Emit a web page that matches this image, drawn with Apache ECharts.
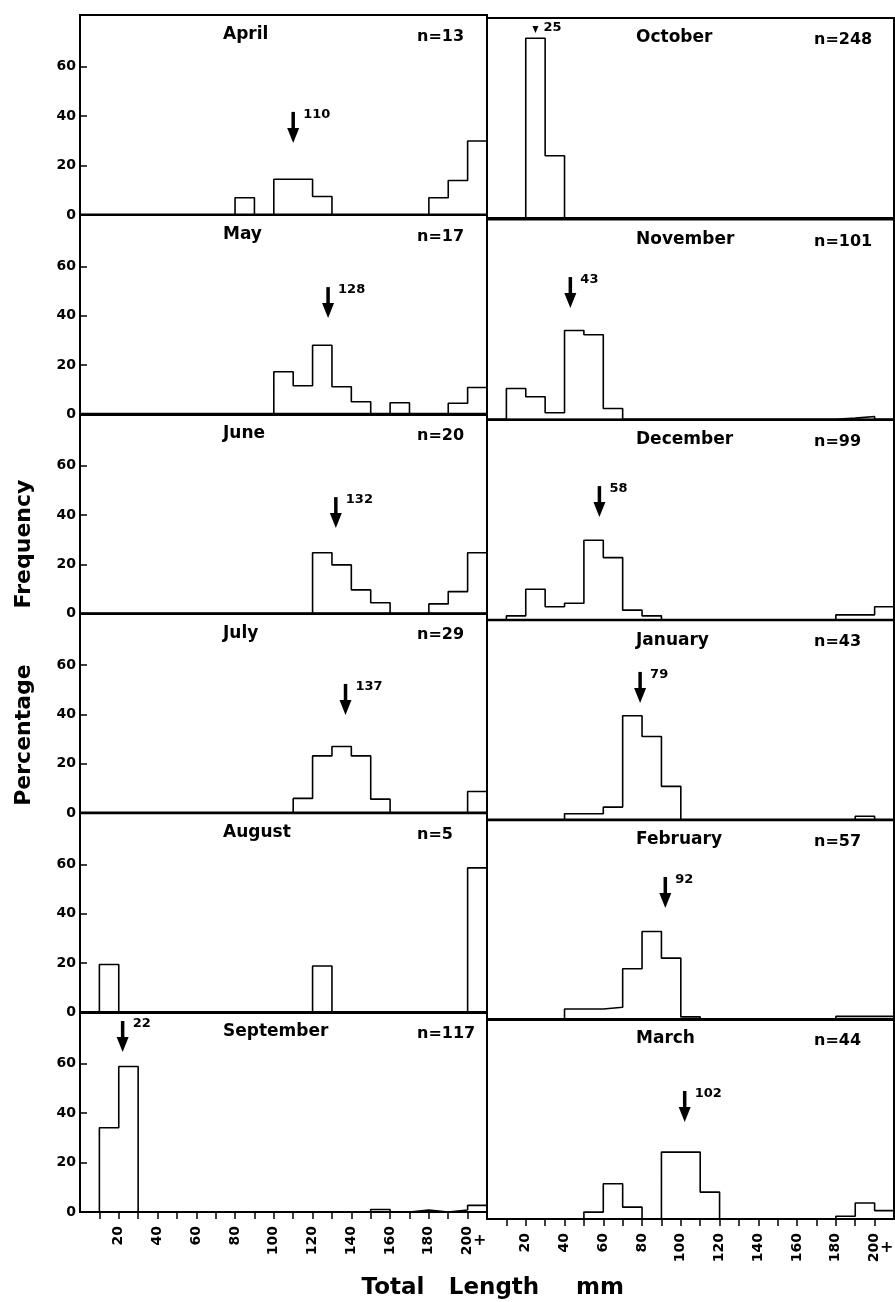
<!DOCTYPE html>
<html>
<head>
<meta charset="utf-8">
<script src="https://cdn.jsdelivr.net/npm/echarts@6/dist/echarts.min.js"></script>
<style>
html,body{margin:0;padding:0;background:#ffffff;}
#chart{width:895px;height:1302px;}
</style>
</head>
<body>
<div id="chart"></div>
<script>
// ---------- DATA ----------
// Length classes (mm), lower bound of each 10 mm bin; 200 = "200+"
const binStarts = [0,10,20,30,40,50,60,70,80,90,100,110,120,130,140,150,160,170,180,190,200];
const xTickValues = [10,20,30,40,50,60,70,80,90,100,110,120,130,140,150,160,170,180,190,200];
const xLabelValues = [20,40,60,80,100,120,140,160,180,200];
const yLabelValues = [0,20,40,60];

const months = ['April','May','June','July','August','September',
                'October','November','December','January','February','March'];
const sampleSizes = [13,17,20,29,5,117,248,101,99,43,57,44];
const meanLengths = [110,128,132,137,null,22,25,43,58,79,92,102];

// Percentage frequency per bin (index = binStart/10)
const aprilPct     = [0,0,0,0,0,0,0,0,7,0,14.5,14.5,7.5,0,0,0,0,0,7,14,30];
const mayPct       = [0,0,0,0,0,0,0,0,0,0,17.3,11.6,28,11.2,5.1,0,4.7,0,0,4.5,10.9];
const junePct      = [0,0,0,0,0,0,0,0,0,0,0,0,24.7,19.8,9.7,4.5,0,0,4,9,24.7];
const julyPct      = [0,0,0,0,0,0,0,0,0,0,0,6,23.2,27,23.2,5.7,0,0,0,0,8.8];
const augustPct    = [0,19.5,0,0,0,0,0,0,0,0,0,0,18.9,0,0,0,0,0,0,0,58.6];
const septemberPct = [0,34.1,58.9,0,0,0,0,0,0,0,0,0,0,0,0,1,0,0.8,0,0.8,2.7];
const octoberPct   = [0,0,72.8,25.2,0,0,0,0,0,0,0,0,0,0,0,0,0,0,0,0,0];
const novemberPct  = [0,12.5,9.2,2.7,36,34.3,4.4,0,0,0,0,0,0,0,0,0,0,0,0.5,1.2,0];
const decemberPct  = [0,1.6,12.4,5.3,6.7,32.2,25.2,3.9,1.6,0,0,0,0,0,0,0,0,0,2,2,5.3];
const januaryPct   = [0,0,0,0,2.6,2.6,5.3,42.3,33.9,13.7,0,0,0,0,0,0,0,0,0,1.6,0];
const februaryPct  = [0,0,0,0,4.3,4.3,5,20.6,35.7,24.9,1.1,0,0,0,0,0,0,0,1.3,1.3,1.3];
const marchPct     = [0,0,0,0,0,2.8,14.3,4.8,0,27.1,27.1,10.9,0,0,0,0,0,0,1.1,6.5,3.4];

const monthPct = [aprilPct,mayPct,junePct,julyPct,augustPct,septemberPct,
                  octoberPct,novemberPct,decemberPct,januaryPct,februaryPct,marchPct];

// ---------- LAYOUT (not data) ----------
const rightShift = [3,5,6,7,7,7];            // scan skew of right column (px)
const arrowTipLevel = [29.2,39,34.7,39.8,null,64.8,74.9,45.1,41.6,47.5,45.2,39.3]; // y position of arrow tips (axis units)
const FONT = '"DejaVu Sans", "Liberation Sans", Arial, sans-serif';

const chart = echarts.init(document.getElementById('chart'), null, {renderer:'canvas'});

const grids = [], xAxes = [], yAxes = [], series = [], graphics = [];

for (let i = 0; i < 12; i++) {
  const col = i < 6 ? 0 : 1;
  const row = i % 6;
  const baseline = 215 + row * 199.4 + (col ? rightShift[row] : 0);
  const top = baseline - 200;
  const left = col ? 487 : 80;
  const bottomRow = row === 5;

  grids.push({
    left: left, top: top, width: 407, height: 200,
    show: true, borderColor: '#000', borderWidth: 2, backgroundColor: 'transparent',
    containLabel: false, outerBoundsMode: 'none'
  });

  xAxes.push({
    type: 'value', gridIndex: i, min: 0, max: 210,
    axisLine: {show: true, onZero: false, lineStyle: {color: '#000', width: 2}},
    axisTick: {show: bottomRow, inside: false, length: 7, customValues: xTickValues,
               lineStyle: {color: '#000', width: 1.5}},
    axisLabel: {show: bottomRow, customValues: xLabelValues, rotate: 90, margin: 14,
                color: '#000', fontFamily: FONT, fontWeight: 'bold', fontSize: 14,
                formatter: v => String(v)},
    splitLine: {show: false}
  });

  yAxes.push({
    type: 'value', gridIndex: i, min: 0, max: 81,
    axisLine: {show: true, lineStyle: {color: '#000', width: 2}},
    axisTick: {show: col === 0, inside: true, length: 7, customValues: yLabelValues,
               lineStyle: {color: '#000', width: 1.5}},
    axisLabel: {show: col === 0, customValues: yLabelValues, margin: 4,
                color: '#000', fontFamily: FONT, fontWeight: 'bold', fontSize: 14},
    splitLine: {show: false}
  });

  const pts = binStarts.map((b, k) => [b, monthPct[i][k]]);
  pts.push([210, 0]);
  series.push({
    type: 'line', xAxisIndex: i, yAxisIndex: i, data: pts, step: 'end',
    showSymbol: false, symbol: 'none', animation: false, silent: true,
    lineStyle: {color: '#000', width: 1.6}
  });

  if (meanLengths[i] !== null) {
    series.push({
      type: 'custom', xAxisIndex: i, yAxisIndex: i, clip: false, animation: false, silent: true,
      data: [[meanLengths[i], arrowTipLevel[i], i === 6 ? 1 : 0]],
      renderItem: function (params, api) {
        const p = api.coord([api.value(0), api.value(1)]);
        const small = api.value(2) === 1;
        const label = String(api.value(0));
        if (small) {
          return {type: 'group', children: [
            {type: 'polygon', shape: {points: [[p[0]-3, p[1]-7], [p[0]+3, p[1]-7], [p[0], p[1]]]}, style: {fill: '#000'}},
            {type: 'text', x: p[0] + 8, y: p[1] - 5,
             style: {text: label, font: 'bold 13px ' + FONT, fill: '#000', textAlign: 'left', textVerticalAlign: 'middle'}}
          ]};
        }
        return {type: 'group', children: [
          {type: 'rect', shape: {x: p[0]-1.75, y: p[1]-31, width: 3.5, height: 17}, style: {fill: '#000'}},
          {type: 'polygon', shape: {points: [[p[0]-6, p[1]-15], [p[0]+6, p[1]-15], [p[0], p[1]]]}, style: {fill: '#000'}},
          {type: 'text', x: p[0] + 10, y: p[1] - 28,
           style: {text: label, font: 'bold 13px ' + FONT, fill: '#000', textAlign: 'left', textVerticalAlign: 'middle'}}
        ]};
      }
    });
  }

  // month title and sample size
  graphics.push({type: 'text', x: col ? 636 : 223, y: top + 20,
    style: {text: months[i], font: 'bold 17px ' + FONT, fill: '#000', textAlign: 'left', textVerticalAlign: 'middle'}});
  graphics.push({type: 'text', x: col ? 814 : 417, y: top + 22,
    style: {text: 'n=' + sampleSizes[i], font: 'bold 16px ' + FONT, fill: '#000', textAlign: 'left', textVerticalAlign: 'middle'}});
}

// axis titles
graphics.push({type: 'text', x: 24, y: 544, rotation: Math.PI / 2,
  style: {text: 'Frequency', font: 'bold 22px ' + FONT, fill: '#000', textAlign: 'center', textVerticalAlign: 'middle'}});
graphics.push({type: 'text', x: 24, y: 735, rotation: Math.PI / 2,
  style: {text: 'Percentage', font: 'bold 22px ' + FONT, fill: '#000', textAlign: 'center', textVerticalAlign: 'middle'}});
graphics.push({type: 'text', x: 393, y: 1288,
  style: {text: 'Total', font: 'bold 23px ' + FONT, fill: '#000', textAlign: 'center', textVerticalAlign: 'middle'}});
graphics.push({type: 'text', x: 494, y: 1288,
  style: {text: 'Length', font: 'bold 23px ' + FONT, fill: '#000', textAlign: 'center', textVerticalAlign: 'middle'}});
graphics.push({type: 'text', x: 600, y: 1288,
  style: {text: 'mm', font: 'bold 23px ' + FONT, fill: '#000', textAlign: 'center', textVerticalAlign: 'middle'}});

chart.setOption({
  animation: false,
  backgroundColor: '#fff',
  grid: grids, xAxis: xAxes, yAxis: yAxes, series: series, graphic: graphics
});

// "+" beside the last (200+) class label on the bottom panels
[5, 11].forEach(gi => {
  const p = chart.convertToPixel({gridIndex: gi}, [200, 0]);
  graphics.push({type: 'text', x: p[0] + 12, y: p[1] + 29,
    style: {text: '+', font: 'bold 16px ' + FONT, fill: '#000', textAlign: 'center', textVerticalAlign: 'middle'}});
});
chart.setOption({graphic: graphics});
</script>
</body>
</html>
